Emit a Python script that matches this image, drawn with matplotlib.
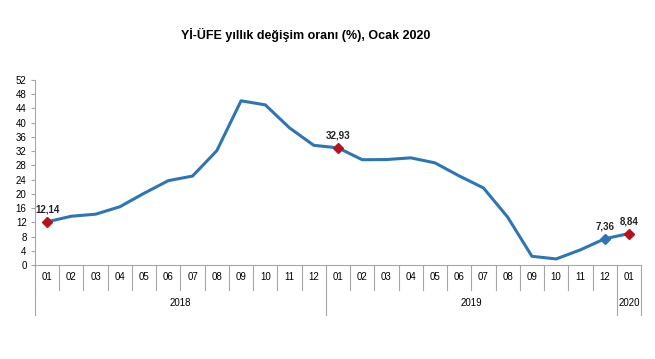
import numpy as np
import matplotlib
matplotlib.use("Agg")
import matplotlib.pyplot as plt
import matplotlib.transforms as mtransforms

plt.rcParams['font.family'] = ['Liberation Sans', 'DejaVu Sans']

months = ['01', '02', '03', '04', '05', '06', '07', '08', '09', '10', '11', '12',
          '01', '02', '03', '04', '05', '06', '07', '08', '09', '10', '11', '12',
          '01']
years = ['2018', '2019', '2020']
year_counts = [12, 12, 1]
values = [12.14, 13.71, 14.28, 16.37, 20.16, 23.71, 25.00, 32.13, 46.15, 45.01, 38.54, 33.64,
          32.93, 29.59, 29.64, 30.12, 28.71, 25.04, 21.66, 13.45, 2.45, 1.70, 4.26, 7.36,
          8.84]
red_idx = [0, 12, 24]
blue_idx = [23]

line_col = '#2E75B6'
red_col = '#B4141E'
grey = '#A6A6A6'

fig = plt.figure(figsize=(6.55, 3.59), dpi=100)
ax = fig.add_axes([35 / 655, 94 / 359, 606 / 655, 185 / 359])

x = np.arange(len(values))
ax.plot(x, values, color=line_col, lw=2.2, zorder=2)
ax.plot(x[red_idx], np.array(values)[red_idx], 'D', color=red_col, ms=5.5, zorder=3)
ax.plot(x[blue_idx], np.array(values)[blue_idx], 'D', color=line_col, ms=5.5, zorder=3)
for i in red_idx + blue_idx:
    ax.annotate(f"{values[i]:.2f}".replace('.', ','), (x[i], values[i]),
                xytext=(0, 5), textcoords='offset points', ha='center', va='bottom',
                fontsize=7, fontweight='bold', color='#222222')

ax.set_xlim(-0.5, len(values) - 0.5)
ax.set_ylim(0, 52)
ax.set_yticks(np.arange(0, 53, 4))
ax.tick_params(axis='y', labelsize=7, length=3, color=grey, pad=3)
ax.set_xticks([])
for s in ['top', 'right']:
    ax.spines[s].set_visible(False)
ax.spines['left'].set_color(grey)
ax.spines['bottom'].set_color(grey)

# category table under the axis
trans = mtransforms.blended_transform_factory(ax.transData, ax.transAxes)
row = 25 / 185
for i, m in enumerate(months):
    ax.text(i, -row / 2, m, transform=trans, ha='center', va='center', fontsize=7)
for b in np.arange(len(months) + 1) - 0.5:
    ax.plot([b, b], [0, -row], transform=trans, color=grey, lw=0.8, clip_on=False)
start = 0
bounds = [-0.5]
for yname, n in zip(years, year_counts):
    ax.text(start + (n - 1) / 2, -row * 1.5, yname, transform=trans,
            ha='center', va='center', fontsize=7)
    start += n
    bounds.append(start - 0.5)
for b in bounds:
    ax.plot([b, b], [-row, -2 * row], transform=trans, color=grey, lw=0.8, clip_on=False)

fig.text(306 / 655, 1 - 35 / 359, 'Yİ-ÜFE yıllık değişim oranı (%), Ocak 2020',
         ha='center', va='center', fontsize=9, fontweight='bold')

fig.savefig('out.png', dpi=100, facecolor='white')
